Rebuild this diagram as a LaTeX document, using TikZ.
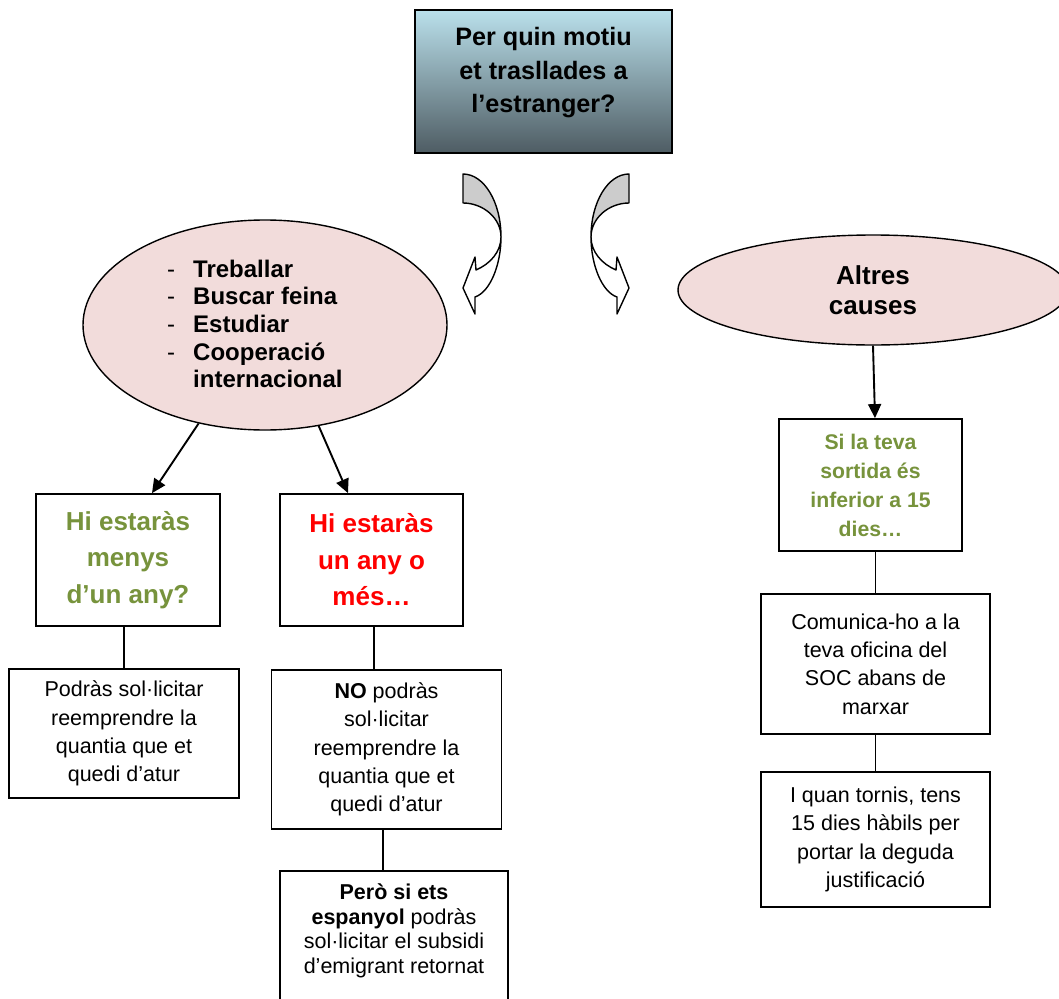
\documentclass[tikz,border=0pt]{standalone}
\usepackage{fontspec}
\setmainfont{Liberation Sans}
\usetikzlibrary{arrows.meta,shapes.geometric}
\definecolor{qtop}{RGB}{186,224,235}
\definecolor{qbot}{RGB}{78,92,99}
\definecolor{pinkfill}{RGB}{242,220,219}
\definecolor{olivetxt}{RGB}{119,147,60}
\definecolor{redtxt}{RGB}{255,0,0}
\definecolor{arrowgray}{RGB}{204,204,204}
\tikzset{
  box/.style={draw=black, line width=1.8pt, fill=white, rectangle, inner sep=0pt, align=center},
  oval/.style={draw=black, line width=1.4pt, fill=pinkfill, ellipse, inner sep=0pt, align=center},
  conn/.style={line width=1.8pt},
  arr/.style={line width=1.9pt, -{Triangle[length=14pt,width=13pt]}},
  regtext/.style={font={\fontsize{21.5}{28.3}\selectfont}},
  dectext/.style={font={\fontsize{26}{36.5}\selectfont\bfseries}},
  curvarr/.pic={
    \filldraw[fill=arrowgray, draw=black, line width=1.4pt, line join=round]
      (0,0) .. controls (21,0) and (38,28) .. (38,63)
      .. controls (38,44) and (20,29) .. (0,29) -- cycle;
    \filldraw[fill=white, draw=black, line width=1.4pt, line join=round]
      (38,63) .. controls (38,91) and (27,118) .. (12,123)
      -- (12,140) -- (0,114) -- (12,83) -- (13,96)
      .. controls (27,90) and (38,78) .. (38,63) -- cycle;
  }
}
\begin{document}
\begin{tikzpicture}[x=1pt,y=-1pt]
\useasboundingbox (0,0) rectangle (1059,998);
\clip (0,0) rectangle (1059,998);
\fill[white] (0,0) rectangle (1059,998);

% question box
\node[draw=black, line width=2pt, top color=qtop, bottom color=qbot,
      minimum width=257pt, minimum height=143pt, inner sep=0pt] (q) at (543.5,81.5) {};
\node[font={\fontsize{25.2}{33.5}\selectfont\bfseries}, align=center] (qt) at (543.5,73)
  {Per quin motiu\\et trasllades a\\l’estranger?};

% curved arrows
\pic at (463,174) {curvarr};
\pic[xscale=-1] at (629,174) {curvarr};

% ellipses
\node[oval, minimum width=364pt, minimum height=210pt] (le) at (265,325) {};
\node[anchor=west, inner sep=0pt, font={\fontsize{24}{27.7}\selectfont}] (lt) at (167,327)
  {\begin{tabular}{@{}l@{\hspace{18pt}}l@{}}
   - & \bfseries Treballar\\
   - & \bfseries Buscar feina\\
   - & \bfseries Estudiar\\
   - & \bfseries Cooperació\\
     & \bfseries internacional
   \end{tabular}};
\node[oval, minimum width=390pt, minimum height=110pt,
      font={\fontsize{26}{30}\selectfont\bfseries}] (re) at (873,290) {Altres\\causes};

% decision boxes
\node[box, dectext, text=olivetxt, minimum width=184pt, minimum height=132pt] (d1) at (128,560)
  {Hi estaràs\\menys\\d’un any?};
\node[box, dectext, text=redtxt, minimum width=183pt, minimum height=132pt] (d2) at (371.5,560)
  {Hi estaràs\\un any o\\més…};
\node[box, font={\fontsize{21.2}{29}\selectfont\bfseries}, text=olivetxt,
      minimum width=183pt, minimum height=132pt] (si) at (870.5,485)
  {Si la teva\\sortida és\\inferior a 15\\dies…};

% content boxes
\node[box, regtext, minimum width=230pt, minimum height=129pt] (pod) at (124,733.5)
  {Podràs sol·licitar\\reemprendre la\\quantia que et\\quedi d’atur};
\node[box, regtext, minimum width=230pt, minimum height=159pt] (no) at (386.5,749.5)
  {\textbf{NO} podràs\\sol·licitar\\reemprendre la\\quantia que et\\quedi d’atur};
\node[box, minimum width=228pt, minimum height=150pt, anchor=north] (pero) at (394,870) {};
\node[align=center, font={\fontsize{21.5}{24.5}\selectfont}] (perot) at (394,931)
  {\textbf{Però si ets}\\\textbf{espanyol} podràs\\sol·licitar el subsidi\\d’emigrant retornat};
\node[box, regtext, minimum width=229pt, minimum height=140pt] (com) at (875.5,664)
  {Comunica-ho a la\\teva oficina del\\SOC abans de\\marxar};
\node[box, regtext, minimum width=229pt, minimum height=135pt] (iq) at (875.5,839.5)
  {I quan tornis, tens\\15 dies hàbils per\\portar la deguda\\justificació};

% connectors
\draw[arr] (le.236.5) -- ([xshift=24pt]d1.north);
\draw[arr] (le.298.7) -- ([xshift=-23.5pt]d2.north);
\draw[arr] (re.south) -- ([xshift=4.5pt]si.north);
\draw[conn] (pod.north) -- (pod.north |- d1.south);
\coordinate (c1) at ([xshift=2.5pt]d2.south);
\draw[conn] (c1) -- (c1 |- no.north);
\coordinate (c2) at ([xshift=-3.5pt]no.south);
\draw[conn] (c2) -- (c2 |- pero.north);
\draw[conn] (com.north) -- (com.north |- si.south);
\draw[conn] (com.south) -- (com.south |- iq.north);
\end{tikzpicture}
\end{document}
